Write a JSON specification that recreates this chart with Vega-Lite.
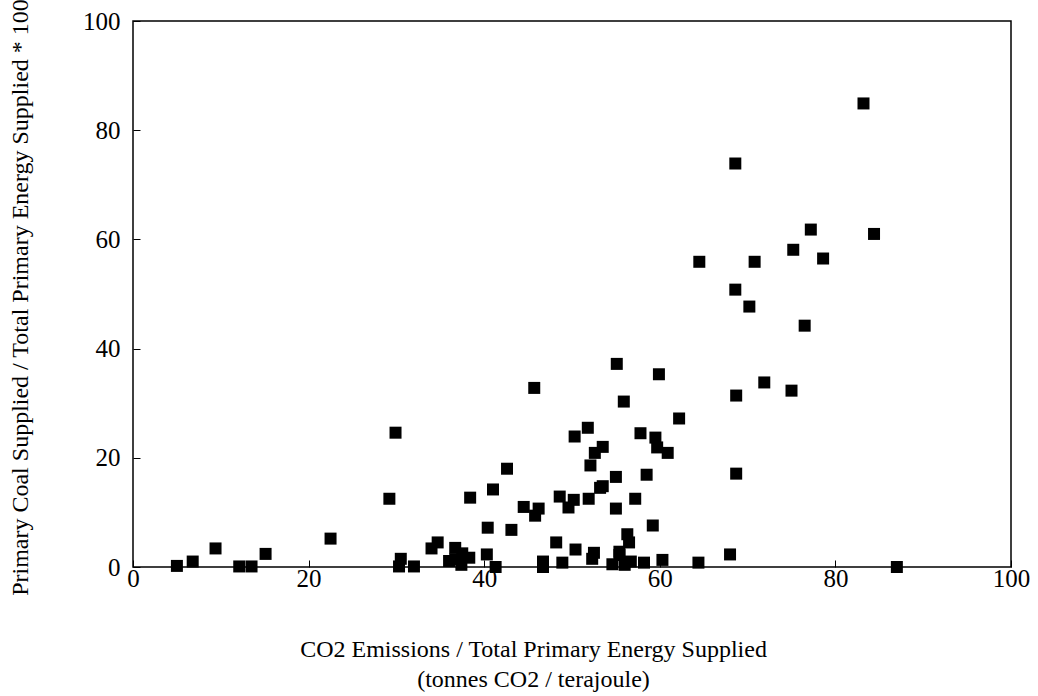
{
  "$schema": "https://vega.github.io/schema/vega-lite/v6.json",
  "width": 878,
  "height": 546,
  "autosize": {"type": "none"},
  "padding": {"left": 133, "top": 21, "right": 27, "bottom": 129},
  "background": "white",
  "config": {
    "view": {"stroke": "black", "strokeWidth": 1.5},
    "font": "Liberation Serif"
  },
  "data": {
    "values": [
      {"co2": 5.0, "coal": 0.2}, {"co2": 6.8, "coal": 1.0}, {"co2": 9.4, "coal": 3.4}, {"co2": 12.1, "coal": 0.1},
      {"co2": 13.5, "coal": 0.1}, {"co2": 15.1, "coal": 2.4}, {"co2": 22.5, "coal": 5.2}, {"co2": 29.2, "coal": 12.5},
      {"co2": 29.9, "coal": 24.6}, {"co2": 30.5, "coal": 1.5}, {"co2": 30.3, "coal": 0.1}, {"co2": 32.0, "coal": 0.1},
      {"co2": 34.0, "coal": 3.4},
      {"co2": 45.7, "coal": 32.8}, {"co2": 59.9, "coal": 35.3}, {"co2": 55.9, "coal": 30.3}, {"co2": 62.2, "coal": 27.2},
      {"co2": 51.8, "coal": 25.5}, {"co2": 50.3, "coal": 23.9}, {"co2": 57.8, "coal": 24.5}, {"co2": 59.5, "coal": 23.7},
      {"co2": 53.5, "coal": 22.0}, {"co2": 59.7, "coal": 21.9}, {"co2": 52.6, "coal": 20.9}, {"co2": 60.9, "coal": 20.9},
      {"co2": 42.6, "coal": 18.0}, {"co2": 52.1, "coal": 18.6}, {"co2": 55.0, "coal": 16.5}, {"co2": 58.5, "coal": 16.9},
      {"co2": 53.5, "coal": 14.8}, {"co2": 53.2, "coal": 14.5}, {"co2": 41.0, "coal": 14.2}, {"co2": 38.4, "coal": 12.7},
      {"co2": 48.6, "coal": 12.9}, {"co2": 50.2, "coal": 12.3}, {"co2": 51.9, "coal": 12.5}, {"co2": 57.2, "coal": 12.5},
      {"co2": 44.5, "coal": 11.0}, {"co2": 46.2, "coal": 10.7}, {"co2": 49.6, "coal": 10.9}, {"co2": 55.0, "coal": 10.7},
      {"co2": 45.8, "coal": 9.4}, {"co2": 40.4, "coal": 7.2}, {"co2": 43.1, "coal": 6.8}, {"co2": 59.2, "coal": 7.6},
      {"co2": 56.3, "coal": 6.0}, {"co2": 56.5, "coal": 4.5}, {"co2": 48.2, "coal": 4.5}, {"co2": 34.7, "coal": 4.5},
      {"co2": 50.4, "coal": 3.2}, {"co2": 36.7, "coal": 3.5}, {"co2": 40.3, "coal": 2.3}, {"co2": 52.5, "coal": 2.6},
      {"co2": 55.4, "coal": 2.8}, {"co2": 52.3, "coal": 1.5}, {"co2": 38.3, "coal": 1.7}, {"co2": 37.5, "coal": 2.5},
      {"co2": 36.0, "coal": 1.1}, {"co2": 37.4, "coal": 0.4}, {"co2": 36.7, "coal": 1.4}, {"co2": 41.3, "coal": 0.0},
      {"co2": 46.7, "coal": 1.0}, {"co2": 46.7, "coal": 0.0}, {"co2": 48.9, "coal": 0.8}, {"co2": 54.6, "coal": 0.5},
      {"co2": 56.0, "coal": 0.4}, {"co2": 56.7, "coal": 1.0}, {"co2": 58.2, "coal": 0.8}, {"co2": 60.3, "coal": 1.3},
      {"co2": 64.4, "coal": 0.8}, {"co2": 55.4, "coal": 2.2},
      {"co2": 77.2, "coal": 61.8}, {"co2": 84.4, "coal": 61.0}, {"co2": 75.2, "coal": 58.1}, {"co2": 64.5, "coal": 55.9},
      {"co2": 70.8, "coal": 55.9}, {"co2": 78.6, "coal": 56.5}, {"co2": 68.6, "coal": 50.8}, {"co2": 70.2, "coal": 47.7},
      {"co2": 76.5, "coal": 44.2}, {"co2": 55.1, "coal": 37.2}, {"co2": 71.9, "coal": 33.8}, {"co2": 75.0, "coal": 32.3},
      {"co2": 68.7, "coal": 31.4}, {"co2": 68.7, "coal": 17.1}, {"co2": 68.0, "coal": 2.3}, {"co2": 87.0, "coal": 0.0},
      {"co2": 83.2, "coal": 84.9}, {"co2": 68.6, "coal": 73.9}
    ]
  },
  "mark": {"type": "point", "shape": "square", "filled": true, "color": "black", "opacity": 1, "size": 144},
  "encoding": {
    "x": {
      "field": "co2", "type": "quantitative",
      "scale": {"domain": [0, 100], "nice": false, "zero": true},
      "axis": {
        "title": ["CO2 Emissions / Total Primary Energy Supplied", "(tonnes CO2 / terajoule)"],
        "values": [0, 20, 40, 60, 80, 100],
        "grid": false, "domain": false,
        "tickColor": "black", "tickSize": -7, "tickWidth": 1,
        "labelFont": "Liberation Serif", "labelFontSize": 25, "labelColor": "black", "labelPadding": 6,
        "labelFlush": false,
        "titleFont": "Liberation Serif", "titleFontSize": 24, "titleFontWeight": "normal", "titleColor": "black",
        "titleX": 400, "titleY": 89, "titleLineHeight": 30, "titleBaseline": "alphabetic"
      }
    },
    "y": {
      "field": "coal", "type": "quantitative",
      "scale": {"domain": [0, 100], "nice": false},
      "axis": {
        "title": "Primary Coal Supplied / Total Primary Energy Supplied * 100",
        "values": [0, 20, 40, 60, 80, 100],
        "grid": false, "domain": false,
        "tickColor": "black", "tickSize": -7, "tickWidth": 1,
        "labelFont": "Liberation Serif", "labelFontSize": 25, "labelColor": "black", "labelPadding": 20,
        "labelFlush": false,
        "titleFont": "Liberation Serif", "titleFontSize": 24, "titleFontWeight": "normal", "titleColor": "black",
        "titleAngle": -90, "titleX": -113, "titleY": 276, "titleBaseline": "middle", "titleAlign": "center"
      }
    }
  }
}
